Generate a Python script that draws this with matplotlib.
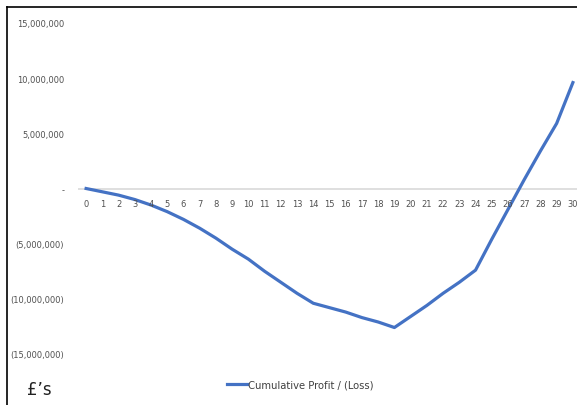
import matplotlib
matplotlib.use("Agg")
import matplotlib.pyplot as plt
from matplotlib.lines import Line2D
from matplotlib.ticker import FuncFormatter

years = list(range(31))
cumulative = [
    0.0, -0.3, -0.6, -1.0, -1.5, -2.1, -2.8, -3.6, -4.5, -5.5,
    -6.4, -7.5, -8.5, -9.5, -10.4, -10.8, -11.2, -11.7, -12.1, -12.6,
    -11.6, -10.6, -9.5, -8.5, -7.4, -4.6, -1.9, 0.8, 3.4, 5.9, 9.6,
]  # £ millions
cumulative = [v * 1e6 for v in cumulative]
y_ticks = [15e6, 10e6, 5e6, 0, -5e6, -10e6, -15e6]

plt.rcParams["font.family"] = ["DejaVu Sans"]
plt.rcParams["font.stretch"] = "condensed"
TXT = "#505050"
BLUE = "#4472C4"

W, H = 577, 406
fig = plt.figure(figsize=(W / 100, H / 100), dpi=100)
ax = fig.add_axes([78 / W, (H - 355) / H, 503 / W, 331 / H])

ax.plot(years, cumulative, color=BLUE, lw=2.3, solid_joinstyle="round",
        label="Cumulative Profit / (Loss)", zorder=3)
ax.axhline(0, color="#d9d9d9", lw=1.2, zorder=1)

ax.set_xlim(-0.5, 30.5)
ax.set_ylim(-15e6, 15e6)
for s in ax.spines.values():
    s.set_visible(False)


def money(v, _):
    if v == 0:
        return "-"
    if v < 0:
        return f"({abs(v):,.0f})"
    return f"{v:,.0f}"


ax.set_yticks(y_ticks)
ax.yaxis.set_major_formatter(FuncFormatter(money))
ax.tick_params(axis="y", length=0, pad=10, labelsize=6.7, labelcolor=TXT)
ax.set_xticks([])

# category labels sit just under the zero line
for yr in years:
    ax.text(yr, -1.35e6, str(yr), ha="center", va="center",
            fontsize=6.7, color=TXT)

ax.legend(loc="center", bbox_to_anchor=(300 / W, (H - 386) / H),
          bbox_transform=fig.transFigure, frameon=False, fontsize=8,
          handlelength=1.8, handletextpad=0.1, labelcolor="#404040")

fig.text(27 / W, (H - 390) / H, "£’s", fontsize=12, color="#222222",
         va="center", ha="left", fontstretch="normal")

# chart frame edges (left and top)
fig.add_artist(Line2D([7 / W, 7 / W], [0, (H - 8) / H], color="black", lw=1.2,
                      transform=fig.transFigure))
fig.add_artist(Line2D([7 / W, 1], [(H - 8) / H, (H - 8) / H], color="black",
                      lw=1.2, transform=fig.transFigure))

fig.savefig("out.png", dpi=100)
